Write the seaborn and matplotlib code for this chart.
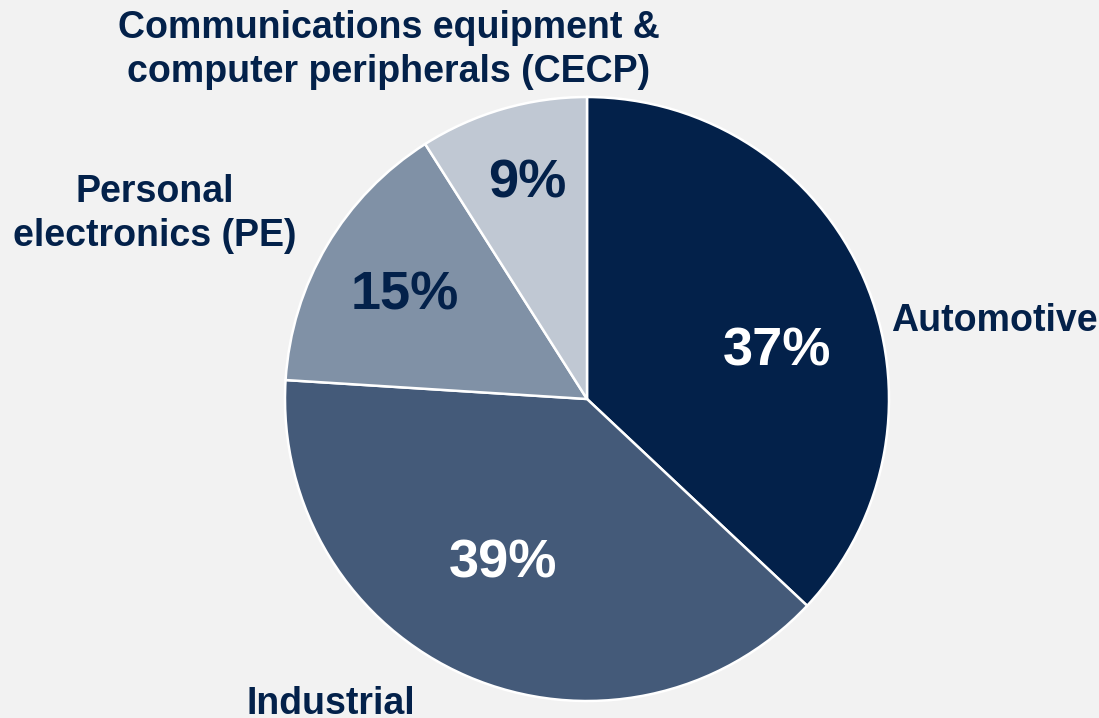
import matplotlib
matplotlib.use("Agg")
import matplotlib.pyplot as plt
import seaborn as sns

# Revenue share by end market
segments = ["Automotive", "Industrial", "Personal\nelectronics (PE)",
            "Communications equipment &\ncomputer peripherals (CECP)"]
shares = [37, 39, 15, 9]
pct_labels = ["37%", "39%", "15%", "9%"]
slice_colors = ["#03214a", "#445a79", "#8091a6", "#c0c8d3"]
pct_colors = ["white", "white", "#03214a", "#03214a"]

sns.set_theme(style="white")
plt.rcParams["font.family"] = ["Liberation Sans", "DejaVu Sans"]

W, H = 1099, 718
fig = plt.figure(figsize=(W / 100, H / 100), dpi=100)
fig.patch.set_facecolor("#f2f2f2")

cx, cy, r = 587, 399, 302
ax = fig.add_axes([(cx - r) / W, (H - cy - r) / H, 2 * r / W, 2 * r / H])
ax.set_facecolor("none")

wedges, _ = ax.pie(shares, colors=slice_colors, startangle=90, counterclock=False,
                   radius=1.0, wedgeprops=dict(edgecolor="white", linewidth=1.8))
ax.set_xlim(-1, 1)
ax.set_ylim(-1, 1)
ax.set_aspect("equal")
ax.axis("off")

def to_data(px, py):
    return (px - cx) / r, (cy - py) / r

# percentage labels inside the slices
pct_pos = [(777, 352), (503, 563), (405, 296), (527, 184)]
for lab, col, (px, py) in zip(pct_labels, pct_colors, pct_pos):
    x, y = to_data(px, py)
    ax.text(x, y, lab, color=col, fontsize=39, fontweight="bold",
            ha="center", va="center")

# segment names around the pie
name_pos = [(994, 321), (331, 704), (155, 214), (389, 50)]
for name, (px, py) in zip(segments, name_pos):
    x, y = to_data(px, py)
    ax.text(x, y, name, color="#03214a", fontsize=27, fontweight="bold",
            ha="center", va="center", linespacing=1.27, clip_on=False)

fig.savefig("out.png", dpi=100, facecolor=fig.get_facecolor())
